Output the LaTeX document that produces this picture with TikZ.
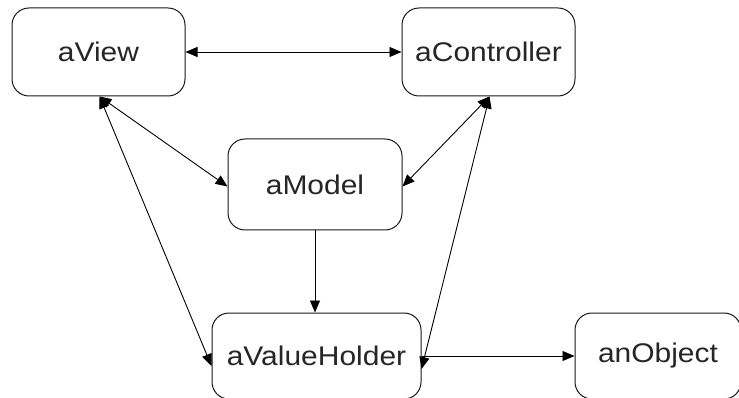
\documentclass[tikz,border=0pt]{standalone}
\usepackage{fontspec}
\setmainfont{Liberation Sans}[FakeStretch=1.11]
\usetikzlibrary{arrows.meta}
\begin{document}
\begin{tikzpicture}[x=1pt,y=-1pt,
  obj/.style={draw=black!90, line width=1pt, rounded corners=17pt, rectangle,
    inner sep=0pt, font=\fontsize{27}{30}\selectfont, text=black!85},
  conn/.style={draw=black, line width=0.9pt},
  tip/.style={-{Triangle[length=12pt,width=10pt]}},
  tips/.style={{Triangle[length=12pt,width=10pt]}-{Triangle[length=12pt,width=10pt]}}]
\useasboundingbox[fill=white] (0,0) rectangle (739,398);
\node[obj, minimum width=173pt, minimum height=88pt] (view) at (98.5,52) {aView};
\node[obj, minimum width=173pt, minimum height=88pt] (ctrl) at (488.5,52) {aController};
\node[obj, minimum width=174pt, minimum height=91pt] (model) at (315,184.5) {aModel};
\node[obj, minimum width=209pt, minimum height=86pt] (vh) at (316.5,356) {aValueHolder};
\node[obj, minimum width=166pt, minimum height=86pt] (obj) at (658,356) {anObject};
\draw[conn, tips] (view.east) -- (ctrl.west);
\draw[conn, tips] ([xshift=88pt]view.south west) -- ([yshift=-2pt]model.west);
\draw[conn, tips] ([xshift=88pt]view.south west) -- ([yshift=-10pt]vh.west);
\draw[conn, tips] ([xshift=-86pt]ctrl.south east) -- ([yshift=-2pt]model.east);
\draw[conn, tips] ([xshift=-86pt]ctrl.south east) -- ([yshift=-13pt]vh.east);
\draw[conn, tip] (model.south) -- ([xshift=-1.5pt]vh.north);
\draw[conn, tip] (vh.east) -- (obj.west);
\end{tikzpicture}
\end{document}
